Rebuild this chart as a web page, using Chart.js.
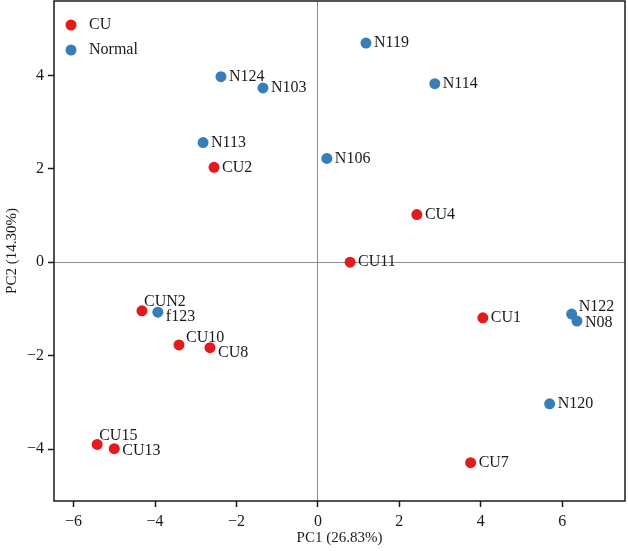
<!DOCTYPE html>
<html>
<head>
<meta charset="utf-8">
<script src="https://cdn.jsdelivr.net/npm/chart.js@4"></script>
<style>
    html, body { margin: 0; padding: 0; background: #fff; }
    #pcaChart { display: block; }
</style>
</head>
<body>
<canvas id="pcaChart" width="628" height="551"></canvas>
<script>
// scores
const cuNames = ['CU2', 'CU4', 'CU11', 'CU1', 'CU7', 'CUN2', 'CU10', 'CU8', 'CU15', 'CU13'];
const cuPC1 = [-2.55, 2.43, 0.79, 4.05, 3.75, -4.32, -3.41, -2.65, -5.42, -5.0];
const cuPC2 = [2.03, 1.02, 0.0, -1.19, -4.29, -1.04, -1.77, -1.83, -3.9, -3.99];
const cuLabelSide = ['r', 'r', 'r', 'r', 'r', 'u', 'ur', 'dr', 'u', 'rd'];

const normalNames = ['N124', 'N103', 'N113', 'N119', 'N114', 'N106', 'f123', 'N122', 'N08', 'N120'];
const normalPC1 = [-2.38, -1.35, -2.82, 1.18, 2.87, 0.22, -3.93, 6.23, 6.36, 5.69];
const normalPC2 = [3.97, 3.73, 2.56, 4.69, 3.82, 2.22, -1.07, -1.11, -1.26, -3.03];
const normalLabelSide = ['r', 'r', 'r', 'r', 'r', 'r', 'dr', 'ur', 'rd', 'r'];

const xTicks = [-6, -4, -2, 0, 2, 4, 6];
const yTicks = [-4, -2, 0, 2, 4];

const serif = "'Liberation Serif', 'DejaVu Serif', serif";
const red = '#e41a1c';
const blue = '#377eb8';

function toPoints(xs, ys) {
    return xs.map((x, i) => ({ x: x, y: ys[i] }));
}

function minusSign(v) {
    return v < 0 ? '\u2212' + Math.abs(v) : String(v);
}

function noPadding(scale) {
    scale.paddingTop = 0;
    scale.paddingBottom = 0;
    scale.paddingLeft = 0;
    scale.paddingRight = 0;
}

const labelOffsets = {
    r: [8, 0],
    rd: [8, 2],
    ur: [7, -7],
    u: [2, -9],
    dr: [8, 5]
};

const pointLabels = {
    id: 'pointLabels',
    afterDatasetsDraw(chart) {
        const ctx = chart.ctx;
        ctx.save();
        ctx.font = '16px ' + serif;
        ctx.fillStyle = '#1a1a1a';
        ctx.textAlign = 'left';
        ctx.textBaseline = 'middle';
        chart.data.datasets.forEach((ds, d) => {
            chart.getDatasetMeta(d).data.forEach((pt, i) => {
                const off = labelOffsets[ds.labelSide[i]];
                ctx.fillText(ds.names[i], pt.x + off[0], pt.y + off[1]);
            });
        });
        ctx.restore();
    }
};

const frameAndLegend = {
    id: 'frameAndLegend',
    afterDraw(chart) {
        const ctx = chart.ctx;
        const a = chart.chartArea;
        ctx.save();
        ctx.strokeStyle = '#1a1a1a';
        ctx.lineWidth = 1.5;
        ctx.strokeRect(a.left, a.top, a.right - a.left, a.bottom - a.top);

        ctx.font = '16px ' + serif;
        ctx.textAlign = 'left';
        ctx.textBaseline = 'middle';
        chart.data.datasets.forEach((ds, i) => {
            const y = a.top + 24 + i * 25;
            ctx.beginPath();
            ctx.arc(a.left + 17, y, 5.5, 0, Math.PI * 2);
            ctx.fillStyle = ds.backgroundColor;
            ctx.fill();
            ctx.fillStyle = '#1a1a1a';
            ctx.fillText(ds.label, a.left + 35, y);
        });
        ctx.restore();
    }
};

const pcaChart = new Chart(document.getElementById('pcaChart'), {
    type: 'scatter',
    data: {
        datasets: [{
            label: 'CU',
            data: toPoints(cuPC1, cuPC2),
            names: cuNames,
            labelSide: cuLabelSide,
            backgroundColor: red,
            borderWidth: 0,
            pointRadius: 5.5
        }, {
            label: 'Normal',
            data: toPoints(normalPC1, normalPC2),
            names: normalNames,
            labelSide: normalLabelSide,
            backgroundColor: blue,
            borderWidth: 0,
            pointRadius: 5.5
        }]
    },
    options: {
        responsive: false,
        animation: false,
        layout: { autoPadding: false, padding: { top: 1, right: 3, left: 0, bottom: 0 } },
        plugins: {
            legend: { display: false },
            tooltip: { enabled: false }
        },
        scales: {
            x: {
                type: 'linear',
                min: -6.48,
                max: 7.54,
                afterBuildTicks: scale => { scale.ticks = xTicks.map(v => ({ value: v })); },
                afterFit: scale => { scale.height = 50; noPadding(scale); },
                border: { display: false },
                grid: {
                    color: c => c.tick && c.tick.value === 0 ? '#8c8c8c' : 'rgba(0,0,0,0)',
                    lineWidth: 1,
                    tickColor: '#1a1a1a',
                    tickLength: 6,
                    tickWidth: 1.5
                },
                ticks: {
                    color: '#1a1a1a',
                    padding: 5,
                    font: { family: serif, size: 16 },
                    callback: v => minusSign(v)
                },
                title: {
                    display: true,
                    text: 'PC1 (26.83%)',
                    color: '#1a1a1a',
                    font: { family: serif, size: 15 },
                    padding: { top: 0, bottom: 4 }
                }
            },
            y: {
                type: 'linear',
                min: -5.11,
                max: 5.59,
                afterBuildTicks: scale => { scale.ticks = yTicks.map(v => ({ value: v })); },
                afterFit: scale => { scale.width = 54; noPadding(scale); },
                border: { display: false },
                grid: {
                    color: c => c.tick && c.tick.value === 0 ? '#8c8c8c' : 'rgba(0,0,0,0)',
                    lineWidth: 1,
                    tickColor: '#1a1a1a',
                    tickLength: 6,
                    tickWidth: 1.5
                },
                ticks: {
                    color: '#1a1a1a',
                    padding: 4,
                    font: { family: serif, size: 16 },
                    callback: v => minusSign(v)
                },
                title: {
                    display: true,
                    text: 'PC2 (14.30%)',
                    color: '#1a1a1a',
                    font: { family: serif, size: 15 },
                    padding: { top: 3, bottom: 0 }
                }
            }
        }
    },
    plugins: [pointLabels, frameAndLegend]
});
</script>
</body>
</html>
